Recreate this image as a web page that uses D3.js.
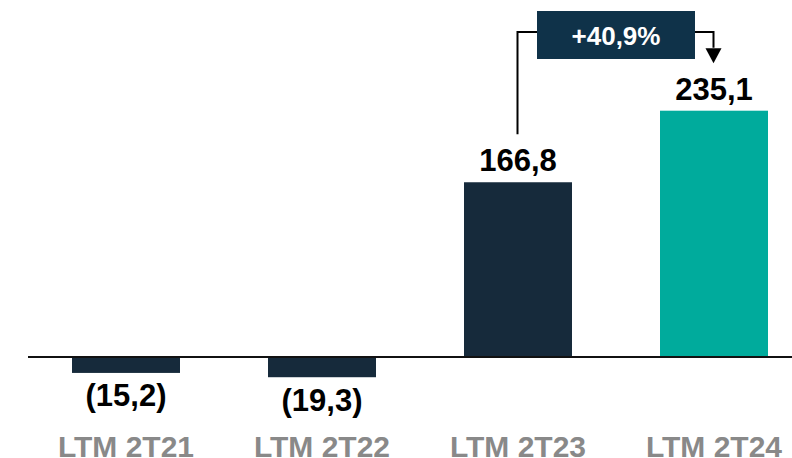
<!DOCTYPE html>
<html>
<head>
<meta charset="utf-8">
<script src="https://cdn.jsdelivr.net/npm/d3@7"></script>
<style>
  html, body { margin: 0; padding: 0; background: #ffffff; }
  svg { display: block; }
  text { font-family: "Liberation Sans", Arial, Helvetica, sans-serif; font-weight: bold; }
</style>
</head>
<body>
<svg id="chart" width="792" height="458"></svg>
<script>
// Net result, LTM by quarter (R$ millions)
const categories = ["LTM 2T21", "LTM 2T22", "LTM 2T23", "LTM 2T24"];
const values = [-15.2, -19.3, 166.8, 235.1];
const valueLabels = ["(15,2)", "(19,3)", "166,8", "235,1"];
const growthLabel = "+40,9%";

const W = 792, H = 458;
const svg = d3.select("#chart");

const barColors = ["#162a3b", "#162a3b", "#162a3b", "#00ab9c"];

const x = d3.scaleBand()
  .domain(categories)
  .range([28, 812])
  .paddingInner(0.449)
  .paddingOuter(0.2245);

const y = d3.scaleLinear()
  .domain([0, 235.1])
  .range([357, 110.7]);

// bars
svg.append("g").selectAll("rect")
  .data(values)
  .join("rect")
  .attr("x", (d, i) => x(categories[i]))
  .attr("width", x.bandwidth())
  .attr("y", d => Math.min(y(d), y(0)))
  .attr("height", d => Math.abs(y(d) - y(0)))
  .attr("fill", (d, i) => barColors[i]);

// zero line
svg.append("line")
  .attr("x1", 28).attr("x2", W)
  .attr("y1", y(0)).attr("y2", y(0))
  .attr("stroke", "#111")
  .attr("stroke-width", 2);

// value labels
svg.append("g").selectAll("text")
  .data(values)
  .join("text")
  .attr("x", (d, i) => x(categories[i]) + x.bandwidth() / 2)
  .attr("y", d => d >= 0 ? y(d) - 11 : y(d) + 33.5)
  .attr("text-anchor", "middle")
  .attr("font-size", 31)
  .attr("fill", "#000")
  .text((d, i) => valueLabels[i]);

// category axis labels
svg.append("g").selectAll("text")
  .data(categories)
  .join("text")
  .attr("x", d => x(d) + x.bandwidth() / 2)
  .attr("y", 456.5)
  .attr("text-anchor", "middle")
  .attr("font-size", 30)
  .attr("fill", "#898989")
  .text(d => d);

// growth annotation between the last two bars
const c3 = x(categories[2]) + x.bandwidth() / 2;
const c4 = x(categories[3]) + x.bandwidth() / 2;
const boxX0 = 537, boxX1 = 695, boxY0 = 11, boxY1 = 59;
const lineY = 32;

svg.append("path")
  .attr("d", `M${c3 - 0.5},${y(values[2]) - 48} V${lineY} H${boxX0}`)
  .attr("fill", "none")
  .attr("stroke", "#000")
  .attr("stroke-width", 2);

svg.append("path")
  .attr("d", `M${boxX1},${lineY} H${c4 - 0.5} V${y(values[3]) - 63}`)
  .attr("fill", "none")
  .attr("stroke", "#000")
  .attr("stroke-width", 2);

const tipY = y(values[3]) - 47.5;
svg.append("path")
  .attr("d", `M${c4 - 8.5},${tipY - 15} L${c4 + 7.5},${tipY - 15} L${c4 - 0.5},${tipY} Z`)
  .attr("fill", "#000");

svg.append("rect")
  .attr("x", boxX0).attr("y", boxY0)
  .attr("width", boxX1 - boxX0).attr("height", boxY1 - boxY0)
  .attr("fill", "#0f3249");

svg.append("text")
  .attr("x", (boxX0 + boxX1) / 2)
  .attr("y", 45)
  .attr("text-anchor", "middle")
  .attr("font-size", 26)
  .attr("fill", "#ffffff")
  .text(growthLabel);
</script>
</body>
</html>
